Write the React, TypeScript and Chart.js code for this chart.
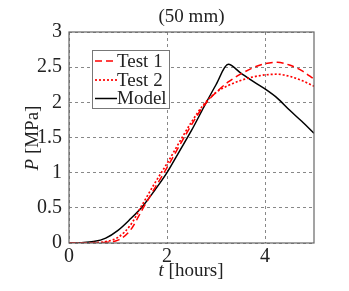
import React, { useEffect, useRef } from "react";
import { Chart, registerables } from "chart.js";

Chart.register(...registerables);

const times = [0, 0.25, 0.5, 0.75, 1.0, 1.25, 1.5, 1.75, 2.0, 2.25, 2.5, 2.75, 3.0, 3.25, 3.5, 3.75, 4.0, 4.25, 4.5, 4.75, 5.0];
const test1 = [0, 0, 0, 0.01, 0.04, 0.18, 0.48, 0.78, 1.07, 1.38, 1.68, 1.95, 2.14, 2.29, 2.40, 2.49, 2.55, 2.57, 2.53, 2.45, 2.33];
const test2 = [0, 0, 0.005, 0.02, 0.08, 0.25, 0.55, 0.85, 1.13, 1.43, 1.72, 1.97, 2.14, 2.24, 2.31, 2.36, 2.39, 2.40, 2.37, 2.31, 2.23];
const modelTimes = [0, 0.25, 0.5, 0.75, 1.0, 1.25, 1.5, 1.75, 2.0, 2.25, 2.5, 2.75, 3.0, 3.25, 3.5, 3.75, 4.0, 4.25, 4.5, 4.75, 5.0];
const model = [0, 0.005, 0.02, 0.07, 0.18, 0.34, 0.52, 0.75, 1.0, 1.3, 1.6, 1.93, 2.25, 2.54, 2.42, 2.30, 2.19, 2.06, 1.89, 1.73, 1.56];
const xTicks = [0, 2, 4];
const yTicks = [0, 0.5, 1, 1.5, 2, 2.5, 3];
const legendLabels = ["Test 1", "Test 2", "Model"];
const titleText = "(50 mm)";

const FONT = "'Liberation Serif', 'DejaVu Serif', serif";

const L = 69, R = 314, T = 32, B = 243;

const decor = {
  id: "decor",
  afterDraw(chart: any) {
    const ctx = chart.ctx;
    const a = chart.chartArea;
    ctx.save();
    ctx.strokeStyle = "#666";
    ctx.lineWidth = 1.2;
    ctx.setLineDash([]);
    ctx.strokeRect(a.left, a.top, a.right - a.left, a.bottom - a.top);
    // title
    ctx.fillStyle = "#222";
    ctx.textAlign = "center";
    ctx.textBaseline = "middle";
    ctx.font = `19px ${FONT}`;
    ctx.fillText(titleText, (a.left + a.right) / 2, 17);
    // legend
    const lx = 92, ly = 50, lw = 77, lh = 58;
    ctx.fillStyle = "#fff";
    ctx.fillRect(lx, ly, lw, lh);
    ctx.strokeStyle = "#777";
    ctx.lineWidth = 1;
    ctx.strokeRect(lx + 0.5, ly + 0.5, lw, lh);
    const rows = [61, 80, 98.5];
    chart.data.datasets.forEach((d: any, i: number) => {
      ctx.strokeStyle = d.borderColor;
      ctx.lineWidth = d.borderWidth;
      ctx.setLineDash(d.borderDash || []);
      ctx.beginPath();
      ctx.moveTo(95, rows[i]);
      ctx.lineTo(117, rows[i]);
      ctx.stroke();
      ctx.setLineDash([]);
      ctx.fillStyle = "#222";
      ctx.textAlign = "left";
      ctx.font = `19px ${FONT}`;
      ctx.fillText(legendLabels[i], 117, rows[i] + 1);
    });
    // x label
    ctx.fillStyle = "#222";
    ctx.textAlign = "left";
    ctx.font = `italic 19px ${FONT}`;
    const t = "t";
    const tw = ctx.measureText(t).width;
    ctx.font = `19px ${FONT}`;
    const rest = " [hours]";
    const rw = ctx.measureText(rest).width;
    let x0 = 191 - (tw + rw) / 2;
    ctx.font = `italic 19px ${FONT}`;
    ctx.fillText(t, x0, 271);
    ctx.font = `19px ${FONT}`;
    ctx.fillText(rest, x0 + tw, 271);
    // y label
    ctx.translate(33, 138);
    ctx.rotate(-Math.PI / 2);
    ctx.font = `italic 19px ${FONT}`;
    const p = "P";
    const pw = ctx.measureText(p).width;
    ctx.font = `19px ${FONT}`;
    const r2 = " [MPa]";
    const r2w = ctx.measureText(r2).width;
    x0 = -(pw + r2w) / 2;
    ctx.font = `italic 19px ${FONT}`;
    ctx.fillText(p, x0, 0);
    ctx.font = `19px ${FONT}`;
    ctx.fillText(r2, x0 + pw, 0);
    ctx.restore();
  },
};

export default function App() {
  const ref = useRef<HTMLCanvasElement>(null);
  useEffect(() => {
    document.body.style.margin = "0";
    const toPts = (xs: number[], ys: number[]) => xs.map((x, i) => ({ x, y: ys[i] }));
    const chart = new Chart(ref.current!, {
      type: "line",
      data: {
        datasets: [
          {
            label: legendLabels[0],
            data: toPts(times, test1),
            borderColor: "#ff0000",
            borderDash: [7, 4],
            borderWidth: 1.5,
            pointRadius: 0,
            cubicInterpolationMode: "monotone",
          },
          {
            label: legendLabels[1],
            data: toPts(times, test2),
            borderColor: "#ff0000",
            borderDash: [2, 2],
            borderWidth: 1.7,
            pointRadius: 0,
            cubicInterpolationMode: "monotone",
          },
          {
            label: legendLabels[2],
            data: toPts(modelTimes, model),
            borderColor: "#000",
            borderWidth: 1.5,
            pointRadius: 0,
            cubicInterpolationMode: "monotone",
          },
        ],
      },
      plugins: [decor],
      options: {
        animation: false,
        responsive: false,
        layout: { padding: { left: 0, top: T, right: 349 - R, bottom: 0 } },
        plugins: {
          legend: { display: false },
          title: { display: false },
          tooltip: { enabled: false },
        },
        scales: {
          x: {
            type: "linear",
            min: 0,
            max: 5,
            afterFit: (s: any) => { s.height = 291 - B; },
            afterBuildTicks: (s: any) => { s.ticks = xTicks.map((v) => ({ value: v })); },
            grid: { color: "#888", drawTicks: false },
            border: { display: false, dash: [3, 3] },
            ticks: { color: "#222", font: { family: FONT, size: 20 }, padding: 2, maxRotation: 0, callback: (v: any) => String(v) },
          },
          y: {
            type: "linear",
            min: 0,
            max: 3,
            afterFit: (s: any) => { s.width = L; },
            afterBuildTicks: (s: any) => { s.ticks = yTicks.map((v) => ({ value: v })); },
            grid: { color: "#888", drawTicks: false },
            border: { display: false, dash: [3, 3] },
            ticks: { color: "#222", font: { family: FONT, size: 20 }, padding: 7, callback: (v: any) => String(v) },
          },
        },
      } as any,
    });
    return () => chart.destroy();
  }, []);
  return <canvas ref={ref} width={349} height={291} style={{ display: "block" }} />;
}
